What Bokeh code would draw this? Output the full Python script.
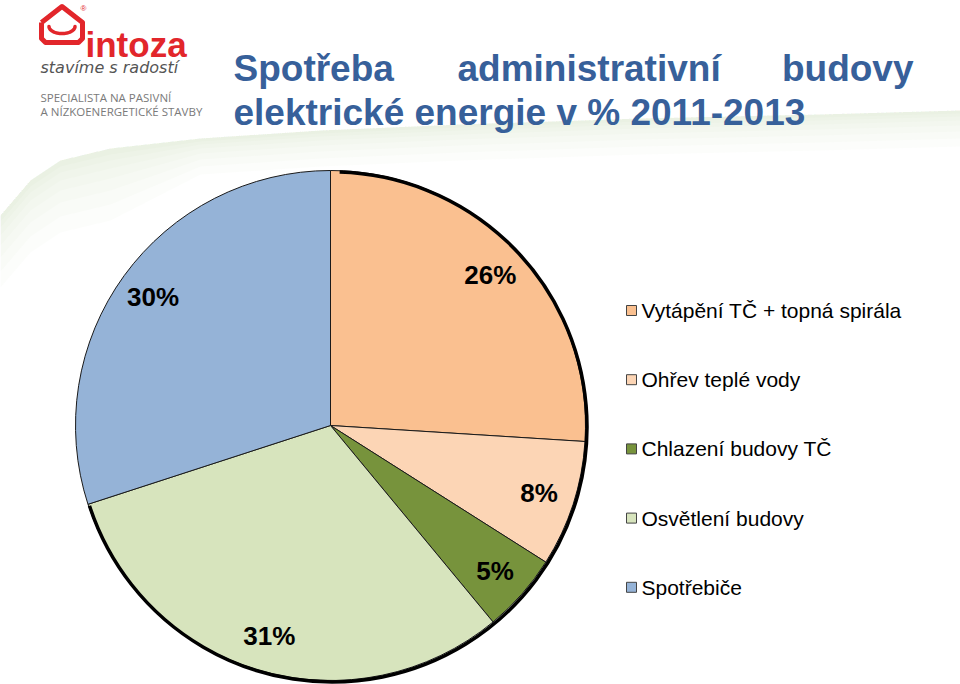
import numpy as np
from bokeh.plotting import figure
from bokeh.models import Range1d, ColumnDataSource
from bokeh.core.properties import value
from bokeh.embed import file_html
from bokeh.resources import INLINE

# ---- data ----
categories = ["Vytápění TČ + topná spirála", "Ohřev teplé vody", "Chlazení budovy TČ",
              "Osvětlení budovy", "Spotřebiče"]
shares = [26, 8, 5, 31, 30]
colors = ["#FAC090", "#FCD5B5", "#77933C", "#D7E4BD", "#95B3D7"]
title_line1 = ["Spotřeba", "administrativní", "budovy"]
title_line2 = "elektrické energie v % 2011-2013"

W, H = 960, 684
def Y(y):
    return H - y

p = figure(width=W, height=H, x_range=Range1d(0, W), y_range=Range1d(0, H),
           output_backend="svg", toolbar_location=None, min_border=0)
p.axis.visible = False
p.grid.visible = False
p.outline_line_color = None
p.background_fill_color = "white"
p.border_fill_color = "white"

FONT = value("Liberation Sans")

# ---- faint green swoosh background (soft gradient from stacked translucent bands) ----
sx = np.array([0, 30, 60, 110, 200, 320, 460, 640, 820, 960], dtype=float)
top = np.array([215, 180, 160, 148, 138, 130, 124, 118, 114, 110], dtype=float)
for d in [6, 12, 20, 30, 42, 56, 72]:
    xs = list(sx) + list(sx[::-1])
    ys = [Y(v) for v in top] + [Y(v + d * (1.0 if i < 4 else 0.5)) for i, v in
                                 reversed(list(enumerate(top)))]
    p.patch(xs, ys, fill_color="#A9CC86", fill_alpha=0.03, line_color=None)

# ---- logo ----
red = "#E2262B"
house_x = [41, 41, 45, 78, 82, 82, 61.5, 41]
house_y = [Y(v) for v in [22, 38, 42, 42, 38, 22, 6, 22]]
p.line(house_x, house_y, line_color=red, line_width=5, line_join="round")
t = np.linspace(0, np.pi, 30)
p.line(61.5 - 13 * np.cos(t), Y(26) - 7 * np.sin(t), line_color=red, line_width=3.5, line_cap="round")
p.text(x=[85], y=[Y(44)], text=["intoza"], text_font=FONT, text_font_style="bold",
       text_font_size="35px", text_color=red, text_baseline="alphabetic")
p.text(x=[80], y=[Y(8)], text=["®"], text_font=FONT, text_font_size="8px",
       text_color=red, text_baseline="middle")
p.text(x=[40], y=[Y(67)], text=["stavíme s radostí"], text_font=value("DejaVu Sans"),
       text_font_style="italic", text_font_size="16px", text_color="#555555",
       text_baseline="alphabetic")
p.text(x=[40, 40], y=[Y(97), Y(111)], text=["SPECIALISTA NA PASIVNÍ", "A NÍZKOENERGETICKÉ STAVBY"],
       text_font=value("Open Sans"), text_font_size="11.5px", text_color="#7A7A7A",
       text_baseline="alphabetic")

# ---- title ----
tcol = "#37609A"
p.text(x=[233], y=[Y(68)], text=[title_line1[0]], text_font=FONT, text_font_style="bold",
       text_font_size="37px", text_color=tcol, text_baseline="alphabetic", text_align="left")
p.text(x=[457], y=[Y(68)], text=[title_line1[1]], text_font=FONT, text_font_style="bold",
       text_font_size="37px", text_color=tcol, text_baseline="alphabetic", text_align="left")
p.text(x=[913], y=[Y(68)], text=[title_line1[2]], text_font=FONT, text_font_style="bold",
       text_font_size="37px", text_color=tcol, text_baseline="alphabetic", text_align="right")
p.text(x=[233], y=[Y(112)], text=[title_line2], text_font=FONT, text_font_style="bold",
       text_font_size="37px", text_color=tcol, text_baseline="alphabetic", text_align="left")

# ---- pie ----
cx, cy, R = 330, Y(425), 255
vals = np.array(shares, dtype=float)
frac = vals / vals.sum()
cum = np.concatenate([[0.0], np.cumsum(frac)])
start = np.pi / 2 - 2 * np.pi * cum[:-1]
end = np.pi / 2 - 2 * np.pi * cum[1:]
src = ColumnDataSource(dict(start=start, end=end, color=colors))
p.wedge(x=cx, y=cy, radius=R, start_angle="start", end_angle="end", direction="clock",
        fill_color="color", line_color="#1A1A1A", line_width=1, source=src)

# shadow-like thick rim on the right/bottom
p.arc(x=cx + 1.5, y=cy - 1.5, radius=R, start_angle=np.pi / 2 - 0.03,
      end_angle=np.pi / 2 - 2 * np.pi * 0.70, direction="clock",
      line_color="black", line_width=3.5)

mid = cum[:-1] + frac / 2
ang = np.pi / 2 - 2 * np.pi * mid
rl = 0.86 * R
lab = ColumnDataSource(dict(x=cx + rl * np.cos(ang), y=cy + rl * np.sin(ang),
                            t=[f"{int(v)}%" for v in shares]))
p.text(x="x", y="y", text="t", source=lab, text_font=FONT, text_font_style="bold",
       text_font_size="26px", text_color="black", text_align="center", text_baseline="middle")

# ---- legend ----
ly = [Y(310 + 69.2 * i) for i in range(len(categories))]
leg = ColumnDataSource(dict(x=[631] * len(categories), y=ly, c=colors, t=categories,
                            tx=[641] * len(categories)))
p.rect(x="x", y="y", width=10, height=10, fill_color="c", line_color="#444444",
       line_width=1, source=leg)
p.text(x="tx", y="y", text="t", source=leg, text_font=FONT, text_font_style="normal",
       text_font_size="21px", text_color="black", text_align="left", text_baseline="middle")

open("out.html", "w").write(file_html(p, INLINE))
